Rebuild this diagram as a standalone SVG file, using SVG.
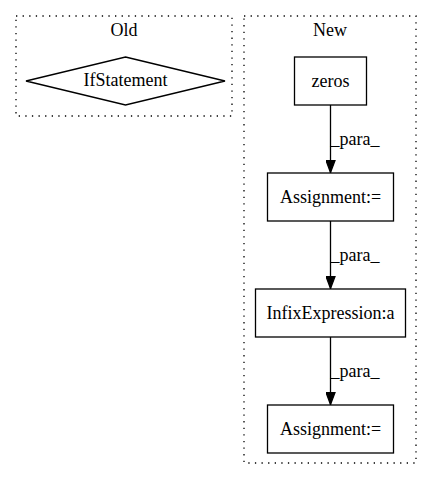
<svg xmlns="http://www.w3.org/2000/svg" width="432" height="480" viewBox="0 0 432 480">
<style>
text{font-family:"Liberation Serif","Times New Roman",Times,serif;font-size:18px;fill:#000;text-anchor:middle}
.cl{fill:none;stroke:#000;stroke-width:1.3;stroke-dasharray:1.3,5.3}
.nd{fill:#fff;stroke:#000;stroke-width:1.3}
.ed{fill:none;stroke:#000;stroke-width:1.3}
</style>
<defs>
<marker id="ah" markerWidth="13" markerHeight="10" refX="13" refY="5" orient="auto" markerUnits="userSpaceOnUse">
<path d="M0.5,0.5 L12.5,5 L0.5,9.5 Z" fill="#000" stroke="#000" stroke-width="1.3"/>
</marker>
</defs>
<rect width="432" height="480" fill="#fff"/>
<g id="cluster_old">
<rect class="cl" x="16" y="16" width="216" height="100"/>
<text x="124" y="36">Old</text>
</g>
<g id="cluster_new">
<rect class="cl" x="244" y="16" width="172" height="447"/>
<text x="330" y="36">New</text>
</g>
<g id="ifstatement">
<polygon class="nd" points="125.5,57 225,81 125.5,105 26,81"/>
<text x="125.5" y="86">IfStatement</text>
</g>
<g id="zeros">
<rect class="nd" x="294.5" y="57" width="72" height="48"/>
<text x="330.5" y="87">zeros</text>
</g>
<g id="assignment1">
<rect class="nd" x="267.5" y="173" width="126" height="48"/>
<text x="330.5" y="203">Assignment:=</text>
</g>
<g id="infix">
<rect class="nd" x="255.5" y="289" width="150" height="48"/>
<text x="330.5" y="319">InfixExpression:a</text>
</g>
<g id="assignment2">
<rect class="nd" x="267.5" y="405" width="126" height="48"/>
<text x="330.5" y="435">Assignment:=</text>
</g>
<g id="connectors">
<line class="ed" x1="330.5" y1="105" x2="330.5" y2="173" marker-end="url(#ah)"/>
<text x="355" y="145">_para_</text>
<line class="ed" x1="330.5" y1="221" x2="330.5" y2="289" marker-end="url(#ah)"/>
<text x="355" y="261">_para_</text>
<line class="ed" x1="330.5" y1="337" x2="330.5" y2="405" marker-end="url(#ah)"/>
<text x="355" y="377">_para_</text>
</g>
</svg>
